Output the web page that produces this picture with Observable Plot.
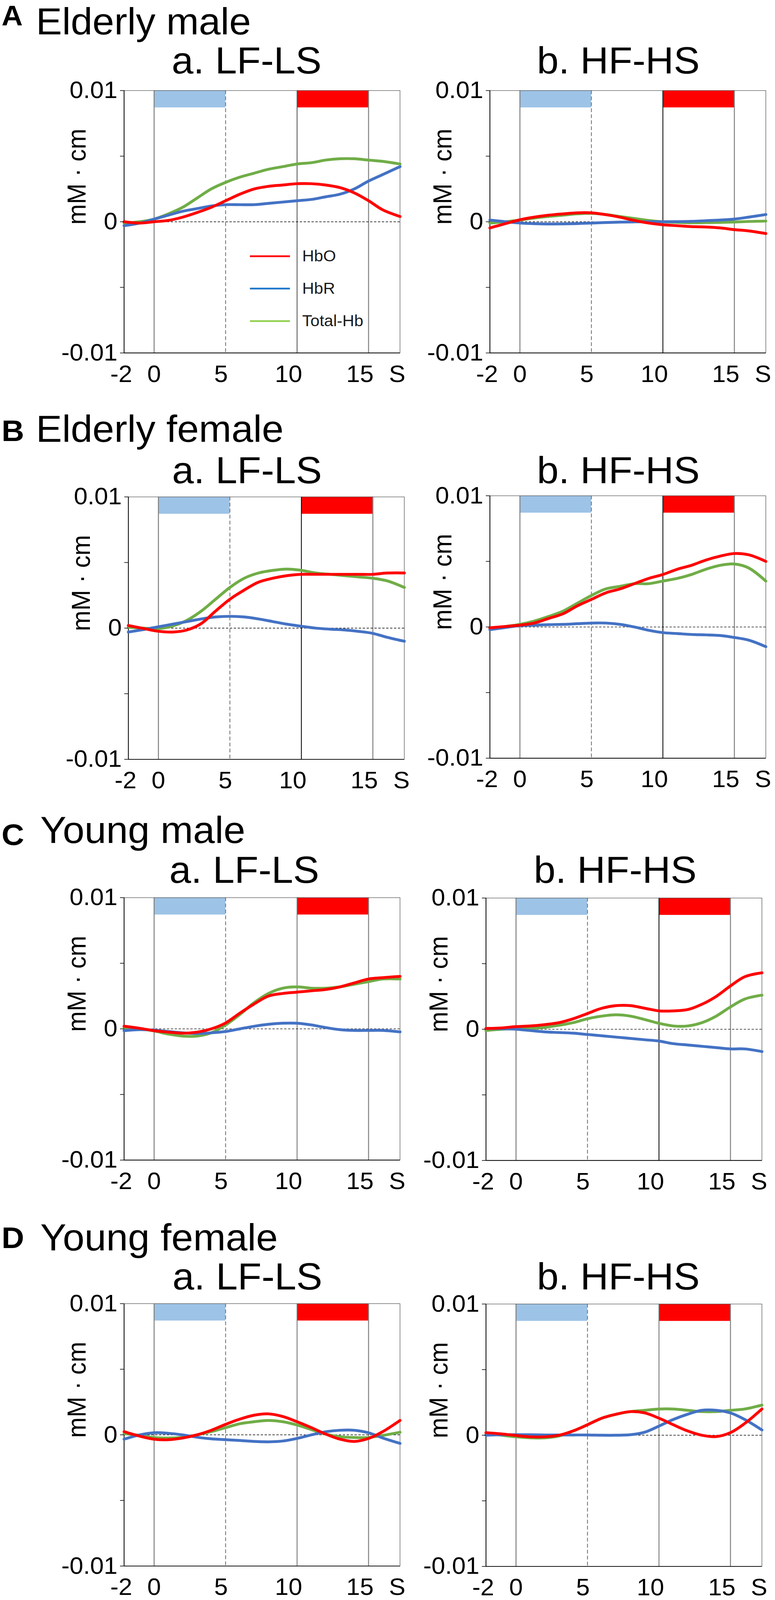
<!DOCTYPE html>
<html>
<head>
<meta charset="utf-8">
<script src="https://cdn.jsdelivr.net/npm/d3@7"></script>
<script src="https://cdn.jsdelivr.net/npm/@observablehq/plot@0.6"></script>
<style>
  html, body { margin: 0; padding: 0; background: #fff; overflow: hidden; }
  #page { position: relative; width: 1983px; height: 4268px; overflow: hidden; transform-origin: 0 0;
          font-family: "Liberation Sans", Arial, sans-serif; color: #000; background: #fff; }
  .t { position: absolute; white-space: nowrap; line-height: 1; }
  .panel { position: absolute; }
</style>
</head>
<body>
<div id="page"></div>
<script>
// ---------------- data ----------------
const time = [-2.1, -1, 0, 1, 2, 3, 4, 5, 6, 7, 8, 9, 10, 11, 12, 13, 14, 15, 16, 17.2];
const groupLetters = ["A", "B", "C", "D"];
const groups = ["Elderly male", "Elderly female", "Young male", "Young female"];
const conditions = ["a. LF-LS", "b. HF-HS"];
const series = ["HbO", "HbR", "Total-Hb"];
const yTicks = [-0.01, -0.005, 0, 0.005, 0.01];
const yTickLabels = ["-0.01", "", "0", "", "0.01"];
const xTickPos = [-2.3, 0, 4.68, 9.4, 14.4, 17.0];
const xTickLabels = ["-2", "0", "5", "10", "15", "S"];
const restPeriod = [0, 5];
const stimPeriod = [10, 15];
const yLabel = "mM · cm";

// Elderly male
const emLF_HbO   = [0, -0.0001, 0, 0.0001, 0.00035, 0.0007, 0.0011, 0.0016, 0.0021, 0.0025, 0.0027, 0.0028, 0.0029, 0.0029, 0.0028, 0.0026, 0.0022, 0.0016, 0.0009, 0.0004];
const emLF_HbR   = [-0.0003, -0.0001, 0.0002, 0.0005, 0.0008, 0.001, 0.0012, 0.0013, 0.0013, 0.0013, 0.0014, 0.0015, 0.0016, 0.0017, 0.0019, 0.0021, 0.0025, 0.0031, 0.0036, 0.0042];
const emLF_Total = [-0.0001, 0, 0.0002, 0.0006, 0.0011, 0.0018, 0.0025, 0.003, 0.0034, 0.0037, 0.004, 0.0042, 0.0044, 0.0045, 0.0047, 0.0048, 0.0048, 0.0047, 0.0046, 0.0044];
const emHF_HbO   = [-0.00047, -0.00014, 0.00015, 0.00035, 0.0005, 0.0006, 0.00068, 0.00068, 0.00054, 0.00035, 0.0001, -0.0001, -0.00023, -0.0003, -0.00037, -0.0004, -0.00047, -0.0006, -0.0007, -0.0009];
const emHF_HbR   = [0.00013, 0, -0.0001, -0.00015, -0.00017, -0.00016, -0.00014, -0.0001, -0.00006, -0.00003, -0.00001, 0, 0, 0.00001, 0.00003, 0.00008, 0.00013, 0.0002, 0.00035, 0.00055];
const emHF_Total = [-0.0001, 0, 0.00013, 0.00028, 0.0004, 0.0005, 0.0006, 0.00064, 0.00055, 0.0004, 0.00025, 0.0001, 0, -0.00005, -0.00008, -0.00007, -0.00005, -0.00002, 0.00002, 0.00005];
// Elderly female
const efLF_HbO   = [0.0002, -0.00004, -0.00024, -0.0003, -0.00014, 0.00035, 0.0013, 0.0022, 0.0029, 0.0035, 0.0038, 0.004, 0.0041, 0.0041, 0.0041, 0.0041, 0.0041, 0.0041, 0.0042, 0.0042];
const efLF_HbR   = [-0.0003, -0.0001, 0.0001, 0.0003, 0.0005, 0.0007, 0.00085, 0.0009, 0.00085, 0.0007, 0.0005, 0.0003, 0.00014, 0, -0.00008, -0.00014, -0.00025, -0.0004, -0.0007, -0.001];
const efLF_Total = [0.00006, 0, -0.00004, 0.00016, 0.0006, 0.0013, 0.0022, 0.0031, 0.0038, 0.0042, 0.0044, 0.0045, 0.0044, 0.0042, 0.0041, 0.004, 0.0039, 0.0038, 0.0036, 0.0031];
const efHF_HbO   = [-0.00006, 0.00004, 0.00014, 0.0003, 0.00065, 0.001, 0.0016, 0.0021, 0.0026, 0.0029, 0.0033, 0.0037, 0.004, 0.0044, 0.0047, 0.0051, 0.0054, 0.0056, 0.0055, 0.005];
const efHF_HbR   = [-0.0002, -0.00004, 0.0001, 0.00014, 0.00018, 0.0002, 0.00025, 0.0003, 0.0003, 0.0002, 0, -0.00025, -0.00043, -0.0005, -0.00057, -0.0006, -0.00065, -0.0008, -0.001, -0.0015];
const efHF_Total = [-0.0001, 0.00004, 0.0002, 0.00045, 0.0008, 0.0012, 0.0018, 0.0024, 0.0029, 0.0031, 0.0033, 0.0033, 0.0035, 0.0037, 0.004, 0.0044, 0.0047, 0.0048, 0.0045, 0.0035];
// Young male
const ymLF_HbO   = [0.0002, 0.00004, -0.00014, -0.00025, -0.00033, -0.00025, 0, 0.00045, 0.0012, 0.0019, 0.0025, 0.0027, 0.0028, 0.0029, 0.003, 0.0032, 0.0035, 0.0038, 0.0039, 0.004];
const ymLF_HbR   = [-0.00014, -0.00006, -0.0001, -0.0002, -0.0003, -0.00035, -0.0003, -0.0002, 0, 0.0002, 0.00035, 0.00043, 0.00043, 0.0003, 0.0001, -0.00006, -0.00012, -0.00012, -0.00012, -0.00023];
const ymLF_Total = [0.0001, 0, -0.00016, -0.0004, -0.00055, -0.00055, -0.0003, 0.0003, 0.0011, 0.002, 0.0027, 0.0031, 0.0032, 0.0031, 0.0031, 0.0032, 0.0034, 0.0036, 0.0038, 0.0038];
const ymHF_HbO   = [0.00006, 0.0001, 0.0002, 0.00025, 0.00035, 0.0005, 0.0008, 0.0012, 0.0016, 0.0018, 0.0018, 0.0016, 0.0014, 0.0014, 0.0015, 0.0019, 0.0025, 0.0033, 0.004, 0.0043];
const ymHF_HbR   = [0.00006, 0.00004, 0, -0.0001, -0.0002, -0.00025, -0.0003, -0.0004, -0.0005, -0.0006, -0.0007, -0.0008, -0.0009, -0.0011, -0.0012, -0.0013, -0.0014, -0.0015, -0.0015, -0.0017];
const ymHF_Total = [-0.0001, 0, 0.00004, 0.00006, 0.00014, 0.0003, 0.0005, 0.0008, 0.001, 0.0011, 0.001, 0.00074, 0.00045, 0.00025, 0.00025, 0.0005, 0.001, 0.0017, 0.0023, 0.0026];
// Young female
const yfLF_HbO   = [0.00025, -0.0001, -0.00033, -0.00037, -0.00024, 0, 0.00035, 0.0008, 0.0012, 0.0015, 0.0016, 0.0014, 0.001, 0.00055, 0.00006, -0.00033, -0.0005, -0.00027, 0.00025, 0.0011];
const yfLF_HbR   = [-0.00033, 0, 0.00016, 0.00012, 0, -0.00018, -0.0003, -0.00037, -0.00043, -0.0005, -0.00053, -0.00047, -0.00027, 0, 0.00024, 0.00035, 0.00035, 0.00016, -0.00024, -0.00065];
const yfLF_Total = [0.0001, -0.00004, -0.0002, -0.00024, -0.00018, 0, 0.00025, 0.00055, 0.00085, 0.001, 0.0011, 0.001, 0.00075, 0.0004, 0.00006, -0.00014, -0.0002, -0.0002, -0.00004, 0.0002];
const yfHF_HbO   = [0.0002, 0.0001, -0.00002, -0.00012, -0.00012, 0, 0.00033, 0.0008, 0.0013, 0.0016, 0.0018, 0.0017, 0.0013, 0.0008, 0.00033, 0, -0.0001, 0.0002, 0.0009, 0.002];
const yfHF_HbR   = [0, 0.00004, 0.00004, 0.00004, 0.00002, 0.00002, 0.00002, 0.00002, 0, 0, 0.00004, 0.00023, 0.0007, 0.0012, 0.0016, 0.0019, 0.0019, 0.0017, 0.0012, 0.0004];
const yfHF_Total = [0.00014, 0, -0.00012, -0.0002, -0.0002, -0.00006, 0.00033, 0.0008, 0.0013, 0.0016, 0.0018, 0.0019, 0.002, 0.002, 0.0019, 0.0018, 0.0018, 0.0019, 0.002, 0.0023];

// legend (drawn inside panel A-a)
const legendY = [-0.00263, -0.00509, -0.00757];

// ---------------- layout & style ----------------
const FONT = "'Liberation Sans', Arial, sans-serif";
const PW = 706, PH = 700, ML = 220, MR = 24, MT = 24, MB = 100;
const seriesColors = ["#ff0000", "#4472c4", "#70ad47"];
const legendColors = ["#ff0000", "#2277c8", "#92d050"];

const panels = [
  {g: 0, c: 0, d: [emLF_HbO, emLF_HbR, emLF_Total], left: 317, top: 241, c10: "#5a5a5a", legend: true},
  {g: 0, c: 1, d: [emHF_HbO, emHF_HbR, emHF_Total], left: 1253, top: 241, c10: "#111"},
  {g: 1, c: 0, d: [efLF_HbO, efLF_HbR, efLF_Total], left: 328, top: 1325, c10: "#111"},
  {g: 1, c: 1, d: [efHF_HbO, efHF_HbR, efHF_Total], left: 1253, top: 1322, c10: "#111"},
  {g: 2, c: 0, d: [ymLF_HbO, ymLF_HbR, ymLF_Total], left: 317, top: 2394, c10: "#777"},
  {g: 2, c: 1, d: [ymHF_HbO, ymHF_HbR, ymHF_Total], left: 1243, top: 2395, c10: "#111"},
  {g: 3, c: 0, d: [yfLF_HbO, yfLF_HbR, yfLF_Total], left: 317, top: 3477, c10: "#777"},
  {g: 3, c: 1, d: [yfHF_HbO, yfHF_HbR, yfHF_Total], left: 1243, top: 3478, c10: "#777"}
];
const rowHeadBaseline = [92, 1179, 2249, 3335];
const rowHeadX = [92, 92, 103, 103];
const rowLetterBaseline = [68, 1177, 2255, 3330];
const letterSize = [75, 80, 80, 80];
const subBaseline = [196, 1289, 2355, 3440];
const subCenter = [[631, 1582], [632, 1582], [625, 1574], [633, 1582]];

const page = document.getElementById("page");

// fit the fixed 1983x4268 layout into the actual viewport (no-op when it is exactly that size)
(function fit() {
  const sx = window.innerWidth / 1983, sy = window.innerHeight / 4268;
  if (Math.abs(sx - 1) > 0.002 || Math.abs(sy - 1) > 0.002) {
    page.style.transform = `scale(${sx}, ${sy})`;
  }
})();

function addText(txt, {x, baseline, size, weight = "normal", anchor = "start"}) {
  const el = document.createElement("div");
  el.className = "t";
  el.textContent = txt;
  el.style.fontSize = size + "px";
  el.style.fontWeight = weight;
  el.style.top = Math.max(0, baseline - 0.8465 * size) + "px";
  el.style.left = x + "px";
  if (anchor === "middle") el.style.transform = "translateX(-50%)";
  page.appendChild(el);
}

// Row headings and panel sub-titles
groups.forEach((name, g) => {
  addText(groupLetters[g], {x: 4, baseline: rowLetterBaseline[g], size: letterSize[g], weight: "bold"});
  addText(name, {x: rowHeadX[g], baseline: rowHeadBaseline[g], size: 100});
  conditions.forEach((cond, c) => {
    addText(cond, {x: subCenter[g][c], baseline: subBaseline[g], size: 100, anchor: "middle"});
  });
});

panels.forEach(p => {
  // long format, drawn Total-Hb first, then HbR, then HbO on top
  const rows = [];
  [2, 1, 0].forEach(si => time.forEach((t, i) => rows.push({t, v: p.d[si][i], s: series[si]})));

  const marks = [
    Plot.rect([restPeriod], {x1: d => d[0], x2: d => d[1], y1: 0.0087, y2: 0.01, fill: "#9dc3e6"}),
    Plot.rect([stimPeriod], {x1: d => d[0], x2: d => d[1], y1: 0.0087, y2: 0.01, fill: "#ff0000"}),
    Plot.ruleX([restPeriod[0], stimPeriod[1]], {stroke: "#858585", strokeWidth: 2.6}),
    Plot.ruleX([stimPeriod[0]], {stroke: p.c10, strokeWidth: 2.2}),
    Plot.ruleX([restPeriod[1]], {stroke: "#777", strokeWidth: 2.2, strokeDasharray: "10,6"}),
    Plot.ruleY([0], {stroke: "#000", strokeWidth: 1.5, strokeDasharray: "6,4"}),
    Plot.frame({stroke: "#555", strokeWidth: 1.3}),
    Plot.ruleX([time[0]], {stroke: "#000", strokeWidth: 2}),
    Plot.ruleY([-0.01], {stroke: "#000", strokeWidth: 2}),
    Plot.line(rows, {x: "t", y: "v", stroke: "s", z: "s", strokeWidth: 7.5, curve: "catmull-rom"}),
    Plot.axisY({ticks: yTicks, tickFormat: d => yTickLabels[yTicks.indexOf(d)], tickSize: 10, tickPadding: 7,
                label: null, fontSize: 63, strokeWidth: 1.6}),
    Plot.text(xTickLabels, {x: (d, i) => xTickPos[i], y: -0.01, dy: 57, text: d => d, lineAnchor: "middle", fontSize: 63}),
    Plot.text([yLabel], {frameAnchor: "left", rotate: -90, dx: -120, dy: 8, text: d => d, fontSize: 66})
  ];
  if (p.legend) {
    series.forEach((s, i) => {
      marks.push(Plot.link([s], {x1: 6.7, x2: 9.5, y1: legendY[i], y2: legendY[i], stroke: legendColors[i], strokeWidth: 4.7}));
      marks.push(Plot.text([s], {x: 10.36, y: legendY[i], text: d => d, textAnchor: "start", lineAnchor: "middle", fontSize: 42, fill: "#1a1a1a"}));
    });
  }

  const svg = Plot.plot({
    width: ML + PW + MR, height: MT + PH + MB,
    marginLeft: ML, marginRight: MR, marginTop: MT, marginBottom: MB,
    x: {domain: [time[0], time[time.length - 1]], axis: null},
    y: {domain: [-0.01, 0.01], axis: null},
    color: {domain: series, range: seriesColors},
    style: {background: "transparent", fontFamily: FONT, fontSize: "63px", overflow: "visible", maxWidth: "none", color: "#000"},
    marks
  });
  const wrap = document.createElement("div");
  wrap.className = "panel";
  wrap.style.left = (p.left - ML) + "px";
  wrap.style.top = (p.top - MT) + "px";
  wrap.appendChild(svg);
  page.appendChild(wrap);
});
</script>
</body>
</html>
